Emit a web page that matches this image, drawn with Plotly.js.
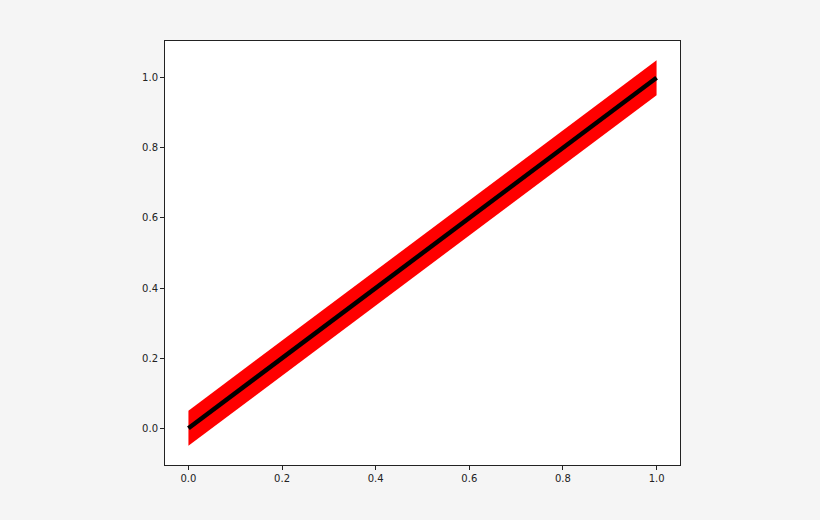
<!DOCTYPE html>
<html>
<head>
<meta charset="utf-8">
<script src="https://cdn.plot.ly/plotly-3.0.1.min.js"></script>
<style>body{margin:0;background:#f5f5f5;}</style>
</head>
<body>
<div id="chart" style="width:820px;height:520px;"></div>
<script>
var xs = [0, 1];
var ys = [0, 1];
var upper = [0.05, 1.05];
var lower = [-0.05, 0.95];

var lowerTrace = {
  x: xs, y: lower, mode: 'lines', line: {width: 0, color: 'red'},
  showlegend: false, hoverinfo: 'skip'
};
var upperTrace = {
  x: xs, y: upper, mode: 'lines', line: {width: 0, color: 'red'},
  fill: 'tonexty', fillcolor: 'red', showlegend: false, hoverinfo: 'skip'
};
var lineTrace = {
  x: xs, y: ys, mode: 'lines', line: {width: 4.5, color: 'black'},
  showlegend: false
};

var axisStyle = {
  showgrid: false, zeroline: false, showline: true, mirror: true,
  linecolor: '#222', linewidth: 1, ticks: 'outside', ticklen: 4,
  tickcolor: '#222', tickfont: {family: 'DejaVu Sans', size: 10, color: '#222'}
};

var layout = {
  width: 820, height: 520,
  paper_bgcolor: '#f5f5f5', plot_bgcolor: 'white',
  margin: {l: 165, r: 140, t: 41, b: 55},
  xaxis: Object.assign({}, axisStyle, {range: [-0.05, 1.05], tickvals: [0, 0.2, 0.4, 0.6, 0.8, 1.0], ticktext: ['0.0', '0.2', '0.4', '0.6', '0.8', '1.0']}),
  yaxis: Object.assign({}, axisStyle, {range: [-0.105, 1.105], tickvals: [0, 0.2, 0.4, 0.6, 0.8, 1.0], ticktext: ['0.0', '0.2', '0.4', '0.6', '0.8', '1.0']})
};

Plotly.newPlot('chart', [lowerTrace, upperTrace, lineTrace], layout, {displayModeBar: false});
</script>
</body>
</html>
